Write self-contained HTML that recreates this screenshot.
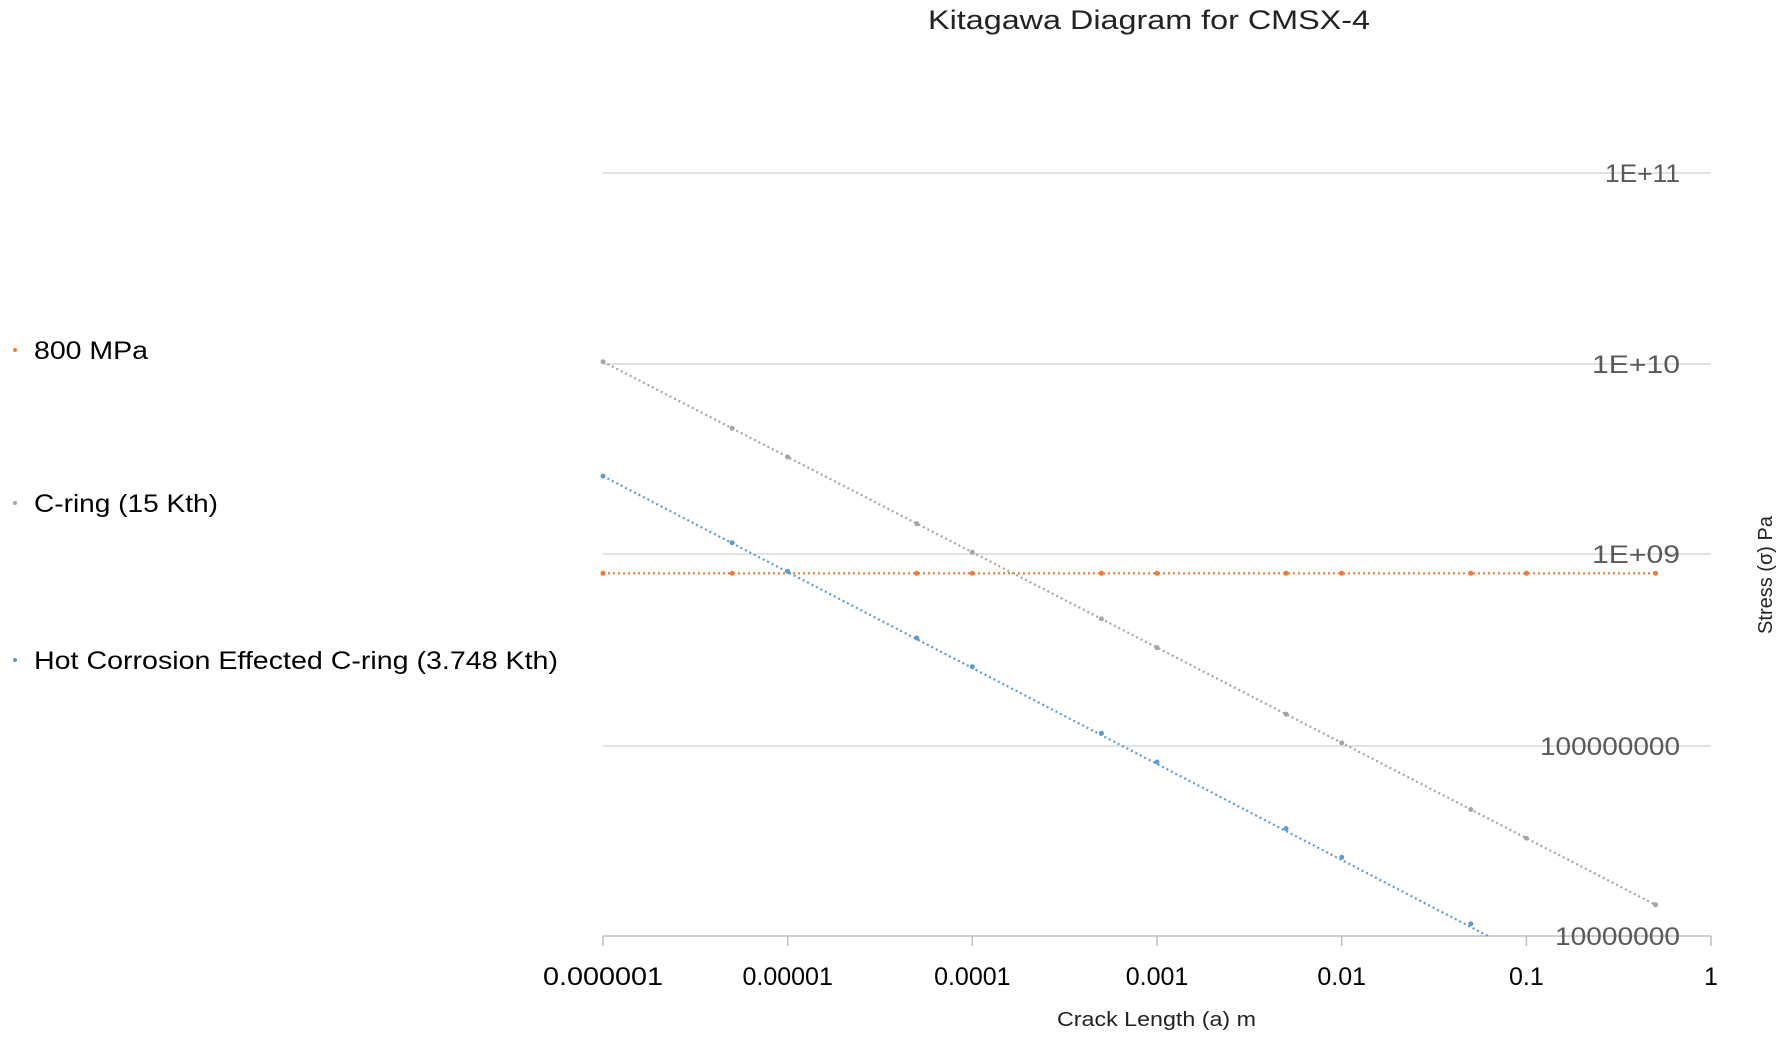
<!DOCTYPE html>
<html><head><meta charset="utf-8"><style>
html,body{margin:0;padding:0;background:#fff;}
svg{display:block;font-family:"Liberation Sans",sans-serif;}
</style></head><body>
<svg width="1785" height="1039" viewBox="0 0 1785 1039" xmlns="http://www.w3.org/2000/svg">
<rect width="1785" height="1039" fill="#fff"/>
<text x="928" y="29" font-size="27" fill="#222" textLength="442" lengthAdjust="spacingAndGlyphs">Kitagawa Diagram for CMSX-4</text>
<g stroke="#d9d9d9" stroke-width="1.5">
<line x1="603" y1="173" x2="1711" y2="173"/>
<line x1="603" y1="364" x2="1711" y2="364"/>
<line x1="603" y1="554" x2="1711" y2="554"/>
<line x1="603" y1="746" x2="1711" y2="746"/>
</g>
<g stroke="#bfbfbf" stroke-width="1.5">
<line x1="603" y1="936" x2="1711" y2="936"/>
<line x1="603" y1="936" x2="603" y2="946"/>
<line x1="787.7" y1="936" x2="787.7" y2="946"/>
<line x1="972.3" y1="936" x2="972.3" y2="946"/>
<line x1="1157" y1="936" x2="1157" y2="946"/>
<line x1="1341.7" y1="936" x2="1341.7" y2="946"/>
<line x1="1526.4" y1="936" x2="1526.4" y2="946"/>
<line x1="1711" y1="936" x2="1711" y2="946"/>
</g>
<g font-size="25" fill="#595959">
<text x="1605" y="182" textLength="75" lengthAdjust="spacingAndGlyphs">1E+11</text>
<text x="1592" y="373" textLength="88" lengthAdjust="spacingAndGlyphs">1E+10</text>
<text x="1592" y="563" textLength="88" lengthAdjust="spacingAndGlyphs">1E+09</text>
<text x="1540" y="755" textLength="140" lengthAdjust="spacingAndGlyphs">100000000</text>
<text x="1555" y="945" textLength="125" lengthAdjust="spacingAndGlyphs">10000000</text>
</g>
<g font-size="25" fill="#000" text-anchor="middle">
<text x="603" y="985" textLength="120" lengthAdjust="spacingAndGlyphs">0.000001</text>
<text x="787.7" y="985">0.00001</text>
<text x="972.3" y="985">0.0001</text>
<text x="1157" y="985">0.001</text>
<text x="1341.7" y="985">0.01</text>
<text x="1526.4" y="985">0.1</text>
<text x="1711" y="985">1</text>
</g>
<text x="1057" y="1026" font-size="20" fill="#222" textLength="199" lengthAdjust="spacingAndGlyphs">Crack Length (a) m</text>
<text transform="translate(1772,575) rotate(-90)" font-size="20" text-anchor="middle" fill="#222">Stress (σ) Pa</text>
<g fill="none" stroke-width="2.2" stroke-dasharray="2,3">
<line x1="603" y1="573.3" x2="1655.5" y2="573.3" stroke="#ed7d31"/>
<line x1="603" y1="361.7" x2="1655.5" y2="904.8" stroke="#a5a5a5"/>
<line x1="603" y1="476.1" x2="1488" y2="936" stroke="#5b9bd5"/>
</g>
<g fill="#ed7d31">
<circle cx="603" cy="573.3" r="2.5"/><circle cx="732.1" cy="573.3" r="2.5"/><circle cx="916.8" cy="573.3" r="2.5"/><circle cx="972.3" cy="573.3" r="2.5"/><circle cx="1101.4" cy="573.3" r="2.5"/><circle cx="1157" cy="573.3" r="2.5"/><circle cx="1286.1" cy="573.3" r="2.5"/><circle cx="1341.7" cy="573.3" r="2.5"/><circle cx="1470.8" cy="573.3" r="2.5"/><circle cx="1526.4" cy="573.3" r="2.5"/><circle cx="1655.5" cy="573.3" r="2.5"/>
</g>
<g fill="#a5a5a5">
<circle cx="603" cy="361.7" r="2.5"/><circle cx="732.1" cy="428.3" r="2.5"/><circle cx="787.7" cy="457" r="2.5"/><circle cx="916.8" cy="523.6" r="2.5"/><circle cx="972.3" cy="552.3" r="2.5"/><circle cx="1101.4" cy="618.9" r="2.5"/><circle cx="1157" cy="647.6" r="2.5"/><circle cx="1286.1" cy="714.2" r="2.5"/><circle cx="1341.7" cy="742.9" r="2.5"/><circle cx="1470.8" cy="809.5" r="2.5"/><circle cx="1526.4" cy="838.2" r="2.5"/><circle cx="1655.5" cy="904.8" r="2.5"/>
</g>
<g fill="#5b9bd5">
<circle cx="603" cy="476.1" r="2.5"/><circle cx="732.1" cy="542.7" r="2.5"/><circle cx="787.7" cy="571.4" r="2.5"/><circle cx="916.8" cy="638" r="2.5"/><circle cx="972.3" cy="666.7" r="2.5"/><circle cx="1101.4" cy="733.3" r="2.5"/><circle cx="1157" cy="762" r="2.5"/><circle cx="1286.1" cy="828.6" r="2.5"/><circle cx="1341.7" cy="857.3" r="2.5"/><circle cx="1470.8" cy="923.9" r="2.5"/>
</g>
<circle cx="15" cy="350" r="2" fill="#ed7d31"/>
<text x="34" y="359" font-size="25" fill="#000" textLength="114" lengthAdjust="spacingAndGlyphs">800 MPa</text>
<circle cx="15" cy="503" r="2" fill="#a5a5a5"/>
<text x="34" y="512" font-size="25" fill="#000" textLength="184" lengthAdjust="spacingAndGlyphs">C-ring (15 Kth)</text>
<circle cx="15" cy="660" r="2" fill="#5b9bd5"/>
<text x="34" y="669" font-size="25" fill="#000" textLength="524" lengthAdjust="spacingAndGlyphs">Hot Corrosion Effected C-ring (3.748 Kth)</text>
</svg>
</body></html>
